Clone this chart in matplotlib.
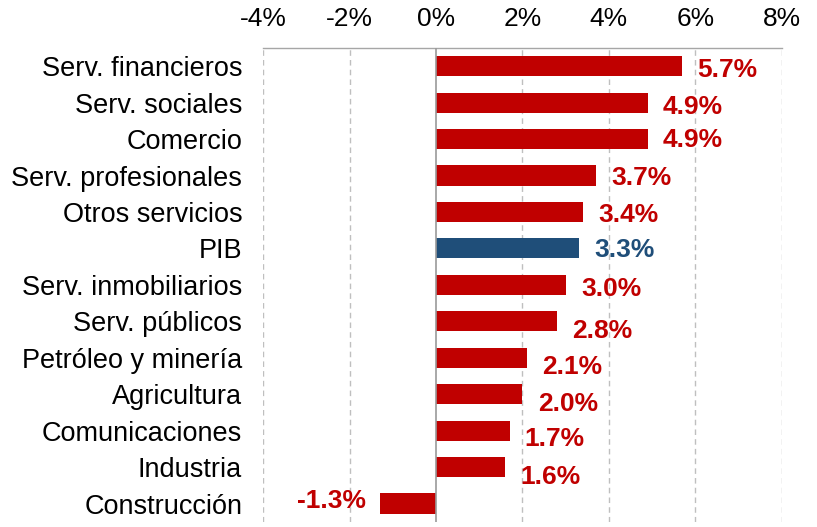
import matplotlib.pyplot as plt
import numpy as np

sectores = ["Serv. financieros", "Serv. sociales", "Comercio", "Serv. profesionales",
            "Otros servicios", "PIB", "Serv. inmobiliarios", "Serv. públicos",
            "Petróleo y minería", "Agricultura", "Comunicaciones", "Industria",
            "Construcción"]
crecimiento = [5.7, 4.9, 4.9, 3.7, 3.4, 3.3, 3.0, 2.8, 2.1, 2.0, 1.7, 1.6, -1.3]
xticks = [-4, -2, 0, 2, 4, 6, 8]

rojo = "#C00000"
azul = "#1F4E79"

# desplazamiento vertical de cada etiqueta (puntos), como en el original
desp_etiqueta = [-3, -3, -1, -2, -2, -1, -3, -7, -7, -7, -6, -7, 2]

plt.rcParams['font.family'] = ['Liberation Sans', 'DejaVu Sans']

fig = plt.figure(figsize=(8.17, 5.27), dpi=100)
ax = fig.add_axes([0.322, 0.01, 0.635, 0.899])

y = np.arange(len(sectores))
colores = [azul if s == "PIB" else rojo for s in sectores]
ax.barh(y, crecimiento, height=0.55, color=colores, zorder=3)

for yi, v, c, dy in zip(y, crecimiento, colores, desp_etiqueta):
    ha = "left" if v >= 0 else "right"
    off = 11 if v >= 0 else -10
    ax.annotate(f"{v:.1f}%", (v, yi), xytext=(off, dy), textcoords="offset points",
                ha=ha, va="center", color=c, fontsize=19, fontweight="bold")

ax.set_xlim(-4, 8)
ax.set_ylim(len(sectores) - 0.5, -0.5)
ax.set_xticks(xticks)
ax.set_xticklabels([f"{t}%" for t in xticks], fontsize=19)
ax.xaxis.tick_top()
ax.set_yticks(y)
ax.set_yticklabels(sectores, fontsize=19.5)
ax.tick_params(axis="x", length=0, pad=12)
ax.tick_params(axis="y", length=0, pad=15)

for t in xticks:
    if t == 0:
        ax.axvline(t, color="#9A9A9A", lw=1.2, zorder=4)
    else:
        ax.axvline(t, color="#BFBFBF", lw=1, ls=(0, (4, 3)), zorder=1)

for s in ["left", "right", "bottom"]:
    ax.spines[s].set_visible(False)
ax.spines["top"].set_color("#A6A6A6")
ax.spines["top"].set_linewidth(1)

fig.savefig("out.png", dpi=100)
